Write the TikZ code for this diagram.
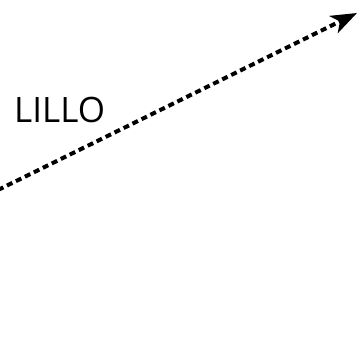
\documentclass[tikz,border=0pt]{standalone}
\usepackage{fontspec}
\setmainfont{Open Sans}
\usetikzlibrary{arrows.meta}
\tikzset{pfeil/.style={line width=4pt,dash pattern=on 6pt off 4pt,-{Stealth[length=26pt,width=19pt,inset=7pt]}}}

\begin{document}
\begin{tikzpicture}[x=1pt,y=1pt,font=\fontsize{35}{40}\selectfont]
\useasboundingbox (0,0) rectangle (361,350);
\coordinate (start) at (-2,160);
\coordinate (ziel) at (357,337);
\draw[pfeil] (start)--(ziel);
\node[inner sep=0pt,anchor=base west] (lillo) at (14,227) {LILLO};
\end{tikzpicture}
\end{document}
